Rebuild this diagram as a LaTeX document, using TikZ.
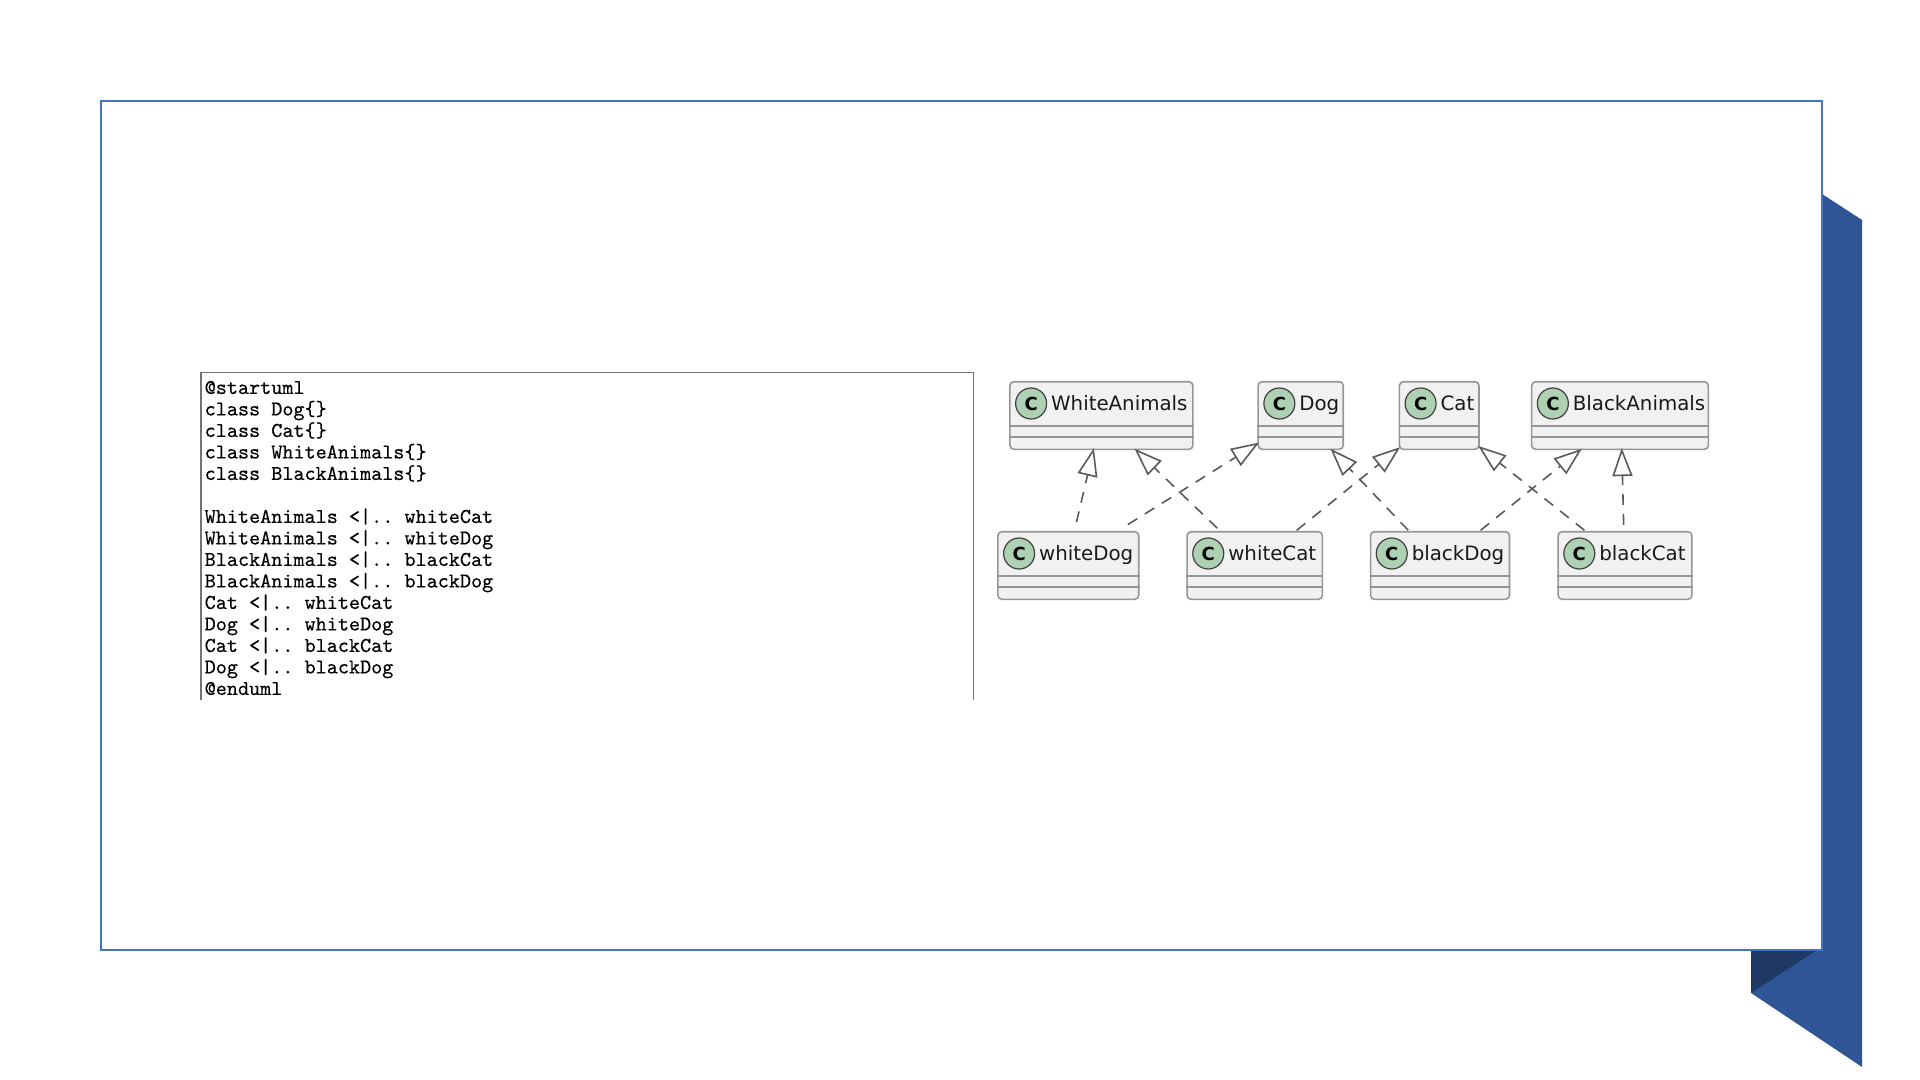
\documentclass[tikz,border=0pt]{standalone}
\usepackage{fontspec}
\usepackage{xcolor}
\usetikzlibrary{arrows.meta}
\newfontfamily\umlfont{DejaVu Sans}
\newfontfamily\codefont[FakeBold=0.3]{Latin Modern Mono}
\definecolor{ribbonblue}{HTML}{2F5597}
\definecolor{ribbondark}{HTML}{1F3864}
\definecolor{framecolor}{HTML}{4472C4}
\definecolor{classfill}{HTML}{F1F1F1}
\definecolor{classedge}{HTML}{969696}
\definecolor{iconfill}{HTML}{ADD1B2}
\definecolor{linkcolor}{HTML}{5A5A5A}
\tikzset{
    classbox/.style={draw=classedge,fill=classfill,line width=.8pt,rounded corners=2pt,inner sep=0pt,minimum height=33.8pt},
    classline/.style={draw=classedge,line width=.8pt},
    classicon/.style={circle,draw=black!75,fill=iconfill,line width=.6pt,inner sep=0pt,minimum size=15.5pt,font=\umlfont\bfseries\fontsize{9}{9}\selectfont},
    classlabel/.style={inner sep=0pt,anchor=base west,text=black!90,font=\umlfont\fontsize{9.9}{12}\selectfont},
    realize/.style={draw=linkcolor,line width=.8pt,dash pattern=on 5.5pt off 4.5pt,shorten >=-1pt,-{Triangle[open,fill=white,length=14pt,width=10pt]}},
    codetext/.style={inner sep=0pt,anchor=north west,align=left,font=\codefont\frenchspacing\fontsize{10.57}{10.75}\selectfont}
}
\begin{document}
\begin{tikzpicture}[x=.5pt,y=-.5pt]
    \useasboundingbox (0,0) rectangle (1920,1080);
    % ribbon and slide frame
    \fill[ribbonblue] (1822,194) -- (1862,220) -- (1862,1067) -- (1751,993) -- (1751,950) -- (1822,950) -- cycle;
    \fill[ribbondark] (1751,950) -- (1817,950) -- (1751,993) -- cycle;
    \draw[framecolor,line width=1pt,fill=white] (101,101) rectangle (1822,950);
    % source listing
    \draw[black!55,line width=.6pt] (201,700) |- (973.7,372.3) -- (973.7,700);
    \node[codetext] (umlcode) at (204.3,380.5) {@startuml\\
        class Dog\{\}\\
        class Cat\{\}\\
        class WhiteAnimals\{\}\\
        class BlackAnimals\{\}\\
        \mbox{}\\
        WhiteAnimals <|.. whiteCat\\
        WhiteAnimals <|.. whiteDog\\
        BlackAnimals <|.. blackCat\\
        BlackAnimals <|.. blackDog\\
        Cat <|.. whiteCat\\
        Dog <|.. whiteDog\\
        Cat <|.. blackCat\\
        Dog <|.. blackDog\\
        @enduml};
    % classes
    \foreach \name/\x/\y/\w in {WhiteAnimals/1101.4/415.5/91.5,Dog/1300.7/415.5/42.55,Cat/1439.2/415.5/39.8,BlackAnimals/1620/415.5/88.35,
        whiteDog/1068.3/565.5/70.4,whiteCat/1254.7/565.5/67.65,blackDog/1440/565.5/69.45,blackCat/1625/565.5/66.9} {
        \node[classbox,minimum width=\w pt] (\name) at (\x,\y) {};
        \node[classicon] (\name icon) at ([xshift=11pt,yshift=-11.3pt]\name.north west) {C};
        \node[classlabel] (\name label) at ([xshift=20.8pt,yshift=-14.7pt]\name.north west) {\name};
        \draw[classline] ([yshift=-22.5pt]\name.north west) -- ([yshift=-22.5pt]\name.north east);
        \draw[classline] ([yshift=-28pt]\name.north west) -- ([yshift=-28pt]\name.north east);
    }
    % realizations
    \foreach \from/\fa/\to/\ta/\gap in {whiteDog/80.4/WhiteAnimals/-103.3/4.5,whiteCat/135/WhiteAnimals/-45.9/2,
        whiteDog/35.2/Dog/-147.4/6,blackDog/132.2/Dog/-48.9/.5,
        whiteCat/40.8/Cat/-141.4/.5,blackCat/139.4/Cat/-38.6/.5,
        blackDog/41.3/BlackAnimals/-139.1/.5,blackCat/92.2/BlackAnimals/-87.8/3} {
        \draw[realize,shorten <=\gap pt] (\from.\fa) -- (\to.\ta);
    }
\end{tikzpicture}
\end{document}
